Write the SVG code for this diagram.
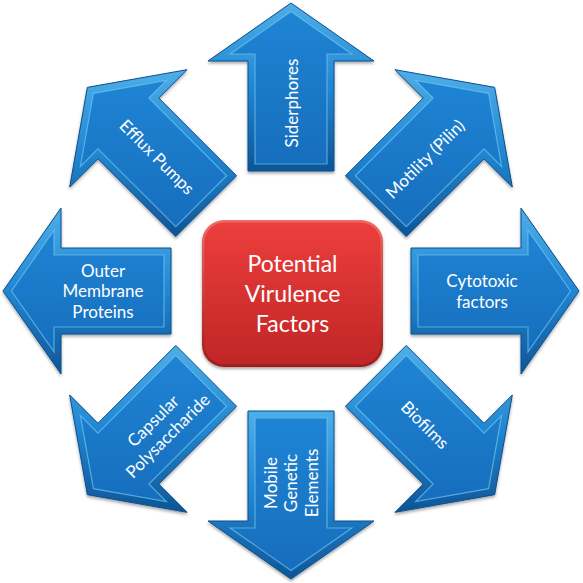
<svg xmlns="http://www.w3.org/2000/svg" width="583" height="583" viewBox="0 0 583 583">
<defs>
<linearGradient id="bev" x1="0" y1="0" x2="0" y2="1">
<stop offset="0" stop-color="#4eaee8"/>
<stop offset="0.5" stop-color="#2186d2"/>
<stop offset="1" stop-color="#0e5596"/>
</linearGradient>
<linearGradient id="body" x1="0" y1="0" x2="0" y2="1">
<stop offset="0" stop-color="#1f84d4"/>
<stop offset="1" stop-color="#166ebd"/>
</linearGradient>
<linearGradient id="red" x1="0" y1="0" x2="0" y2="1">
<stop offset="0" stop-color="#ec3e3c"/>
<stop offset="1" stop-color="#c02626"/>
</linearGradient>
<linearGradient id="redbev" x1="0" y1="0" x2="0" y2="1">
<stop offset="0" stop-color="#f06a66"/>
<stop offset="1" stop-color="#9e1c1c"/>
</linearGradient>
<filter id="sh" x="-10%" y="-10%" width="120%" height="125%">
<feDropShadow dx="0" dy="2" stdDeviation="1.6" flood-color="#000" flood-opacity="0.35"/>
</filter>
</defs>
<style>
.outer{fill:url(#bev);stroke:#0c4f8c;stroke-width:1;filter:url(#sh)}
.inner{fill:url(#body);stroke:#6cc4f2;stroke-width:1.2;stroke-opacity:0.7}
.lbl{font-family:Lato,"Open Sans","Liberation Sans",sans-serif;font-size:17px;fill:#ffffff;text-anchor:middle}
.ctr{font-family:Lato,"Open Sans","Liberation Sans",sans-serif;font-size:23px;fill:#ffffff;text-anchor:middle}
</style>
<rect width="583" height="583" fill="#ffffff"/>
<g id="connectors"></g>

<g id="siderphores">
<polygon class="outer" points="248,171 248,61 208,61 291,3 374,61 334,61 334,171"/>
<polygon class="inner" points="255,164 255,54 230.2,54 291,11.5 351.8,54 327,54 327,164"/>
<text class="lbl" transform="translate(292,103) rotate(-90)" y="6">Siderphores</text>
</g>

<g id="motility">
<polygon class="outer" points="345.45,175.74 423.23,97.96 394.94,69.68 494.65,87.35 512.32,187.06 484.04,158.77 406.26,236.55"/>
<polygon class="inner" points="355.35,175.74 433.13,97.96 415.59,80.42 488.64,93.36 501.58,166.41 484.04,148.87 406.26,226.65"/>
<text class="lbl" transform="translate(425,159) rotate(-45)" y="6">Motility (Pilin)</text>
</g>

<g id="cytotoxic">
<polygon class="outer" points="411,248 521,248 521,208 579,291 521,374 521,334 411,334"/>
<polygon class="inner" points="418,255 528,255 528,230.2 570.5,291 528,351.8 528,327 418,327"/>
<text class="lbl" transform="translate(482,291)"><tspan x="0" y="-4">Cytotoxic</tspan><tspan x="0" y="17">factors</tspan></text>
</g>

<g id="biofilms">
<polygon class="outer" points="406.26,345.45 484.04,423.23 512.32,394.94 494.65,494.65 394.94,512.32 423.23,484.04 345.45,406.26"/>
<polygon class="inner" points="406.26,355.35 484.04,433.13 501.58,415.59 488.64,488.64 415.59,501.58 433.13,484.04 355.35,406.26"/>
<text class="lbl" transform="translate(425,425) rotate(45)" y="6">Biofilms</text>
</g>

<g id="mobile">
<polygon class="outer" points="334,411 334,521 374,521 291,579 208,521 248,521 248,411"/>
<polygon class="inner" points="327,418 327,528 351.8,528 291,570.5 230.2,528 255,528 255,418"/>
<text class="lbl" transform="translate(291,483) rotate(-90)"><tspan x="0" y="-14.5">Mobile</tspan><tspan x="0" y="6">Genetic</tspan><tspan x="0" y="26.5">Elements</tspan></text>
</g>

<g id="capsular">
<polygon class="outer" points="236.55,406.26 158.77,484.04 187.06,512.32 87.35,494.65 69.68,394.94 97.96,423.23 175.74,345.45"/>
<polygon class="inner" points="226.65,406.26 148.87,484.04 166.41,501.58 93.36,488.64 80.42,415.59 97.96,433.13 175.74,355.35"/>
<text class="lbl" transform="translate(160,428) rotate(-45)"><tspan x="0" y="-4">Capsular</tspan><tspan x="0" y="17">Polysaccharide</tspan></text>
</g>

<g id="outer-membrane">
<polygon class="outer" points="171,334 61,334 61,374 3,291 61,208 61,248 171,248"/>
<polygon class="inner" points="164,327 54,327 54,351.8 11.5,291 54,230.2 54,255 164,255"/>
<text class="lbl" transform="translate(103,291)"><tspan x="0" y="-14.5">Outer</tspan><tspan x="0" y="6">Membrane</tspan><tspan x="0" y="26.5">Proteins</tspan></text>
</g>

<g id="efflux">
<polygon class="outer" points="175.74,236.55 97.96,158.77 69.68,187.06 87.35,87.35 187.06,69.68 158.77,97.96 236.55,175.74"/>
<polygon class="inner" points="175.74,226.65 97.96,148.87 80.42,166.41 93.36,93.36 166.41,80.42 148.87,97.96 226.65,175.74"/>
<text class="lbl" transform="translate(157,157) rotate(45)" y="6">Efflux Pumps</text>
</g>

<g id="center">
<rect x="202" y="220" width="181" height="147" rx="22" fill="url(#redbev)" filter="url(#sh)"/>
<rect x="204.5" y="222.5" width="176" height="142" rx="20" fill="url(#red)"/>
<text class="ctr"><tspan x="292.5" y="272">Potential</tspan><tspan x="292.5" y="302">Virulence</tspan><tspan x="292.5" y="332">Factors</tspan></text>
</g>
</svg>
